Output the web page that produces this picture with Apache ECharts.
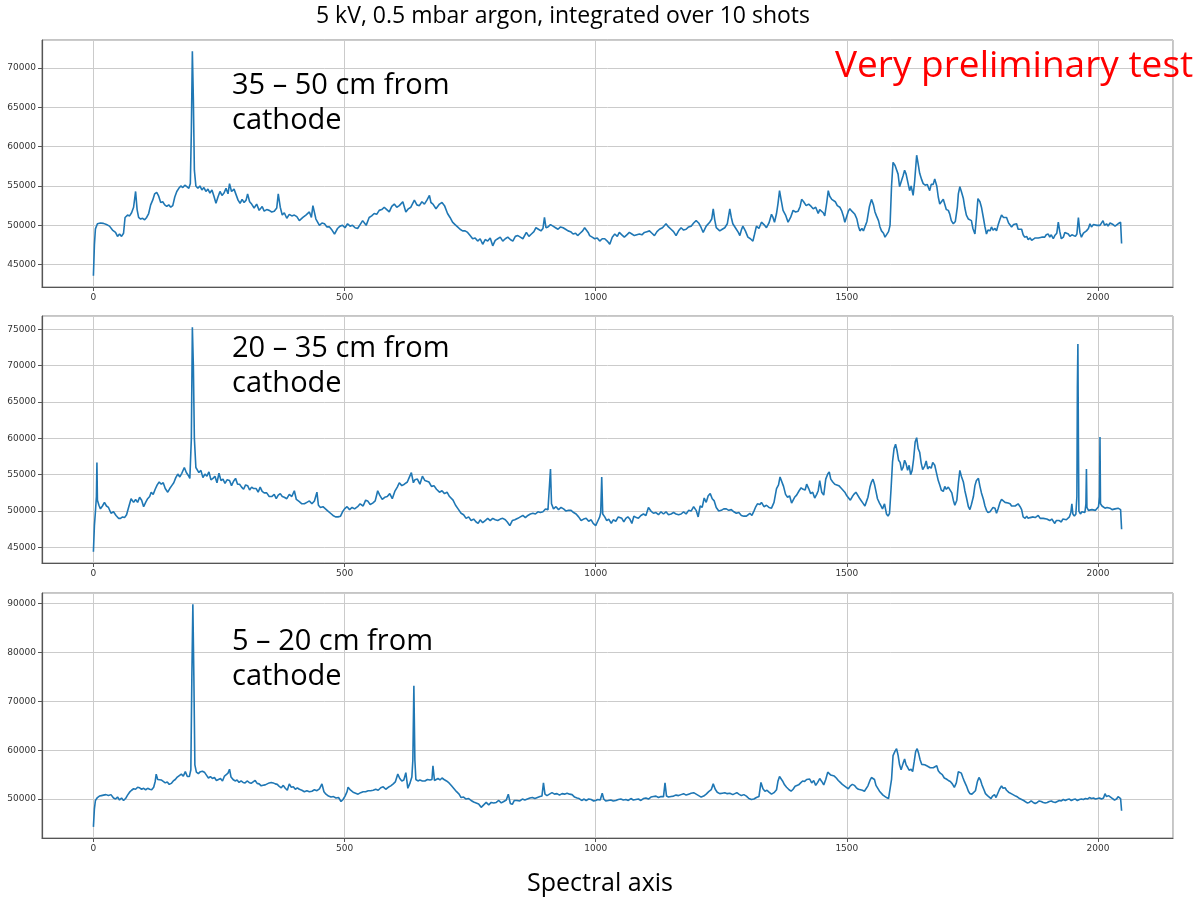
<!DOCTYPE html>
<html>
<head>
<meta charset="utf-8">
<title>Spectra</title>
<script src="https://cdn.jsdelivr.net/npm/echarts@6/dist/echarts.min.js"></script>
<style>
  html, body { margin: 0; padding: 0; background: #fff; }
  #chart { width: 1199px; height: 901px; }
</style>
</head>
<body>
<div id="chart"></div>
<script>
// Integrated spectra, [channel, counts], 2048 channels each
const spectrum35to50 = [[0,43600],[2,47500],[4,49550],[8,50200],[14,50300],[20,50250],[26,50100],[32,49900],[38,49400],[44,49100],[48,48600],[52,48900],[56,48600],[60,49000],[63,51000],[68,51300],[72,51200],[76,51600],[80,52300],[84,54300],[87,52000],[90,51000],[94,50800],[98,50900],[102,50700],[106,51000],[110,51500],[114,52600],[118,53200],[122,54000],[126,54200],[130,53700],[134,52900],[138,53000],[142,52600],[146,52400],[150,52600],[154,52300],[158,52500],[162,53600],[166,54300],[170,54700],[174,55000],[178,54800],[182,55100],[186,54900],[190,54700],[193,55300],[195,62000],[197,72100],[199,66000],[201,57000],[204,55000],[208,54700],[212,55000],[216,54500],[220,54800],[224,54300],[228,54600],[232,54100],[236,54500],[240,53700],[244,52800],[248,53600],[252,54300],[256,53800],[260,54100],[264,54700],[268,54000],[271,55300],[275,54300],[280,54600],[284,53900],[288,53200],[292,52800],[296,53300],[300,52900],[304,53200],[307,54000],[311,53000],[315,52700],[320,52200],[325,52700],[330,51900],[336,52400],[340,51800],[345,52000],[350,51900],[355,51700],[360,51800],[365,52200],[368,54000],[372,52300],[376,51300],[380,51600],[385,50900],[390,51400],[395,51200],[400,51300],[405,51100],[410,50600],[417,51000],[423,51300],[430,51700],[434,51000],[437,52500],[443,50800],[450,50000],[455,50300],[460,50200],[465,49800],[470,49800],[475,49400],[480,48900],[486,49600],[491,49900],[496,50000],[501,49700],[506,50200],[511,49900],[516,50000],[521,49700],[526,49600],[531,50100],[536,50600],[543,50000],[549,51000],[554,51200],[559,51500],[564,51400],[569,51900],[574,52000],[579,52300],[584,52000],[589,51700],[594,52400],[599,52700],[604,52300],[609,52500],[616,53000],[622,51700],[627,52100],[632,52300],[639,53200],[644,52600],[649,52500],[654,53000],[659,52700],[664,53200],[669,53800],[672,52900],[676,52700],[682,52100],[689,52700],[694,52900],[699,52500],[705,51500],[710,51000],[715,50400],[720,50100],[725,49800],[730,49500],[735,49300],[740,49300],[745,49100],[750,48700],[755,48300],[760,48400],[765,48000],[770,48300],[775,47600],[780,48200],[785,48000],[790,48400],[795,47400],[800,48100],[805,48300],[810,48500],[815,48000],[820,48300],[825,48500],[830,48200],[835,48000],[840,48600],[845,48700],[850,48500],[855,48300],[862,49100],[867,48600],[872,48900],[877,49200],[881,49700],[886,49500],[891,49300],[895,49600],[898,51000],[901,49700],[905,49800],[910,50100],[915,49900],[920,49700],[925,49500],[930,49800],[935,49700],[940,49500],[945,49300],[950,49200],[955,48900],[960,49000],[964,48700],[969,49000],[974,49300],[978,49700],[981,49800],[985,49100],[988,48700],[993,48500],[998,48300],[1003,48400],[1008,48000],[1013,48300],[1018,48300],[1023,48000],[1028,47600],[1033,48500],[1038,48900],[1043,48600],[1047,49100],[1052,48800],[1057,48500],[1062,48800],[1067,49100],[1072,48900],[1077,48700],[1082,48800],[1087,48900],[1092,48800],[1097,49100],[1102,49200],[1107,49300],[1112,49000],[1117,48700],[1122,49200],[1127,49500],[1133,49700],[1140,50200],[1145,49800],[1150,49500],[1155,49200],[1160,48700],[1165,49300],[1170,49700],[1175,49400],[1180,49500],[1185,49800],[1190,49900],[1195,50300],[1200,50600],[1205,50300],[1210,49700],[1214,49100],[1220,49900],[1227,50400],[1231,50800],[1234,52100],[1237,50700],[1240,49700],[1247,49300],[1252,49500],[1257,49700],[1262,50200],[1267,52100],[1270,51000],[1273,50200],[1280,49500],[1284,49100],[1287,48700],[1290,49400],[1293,49900],[1298,49300],[1303,48500],[1308,48300],[1313,48000],[1316,48800],[1320,49900],[1325,49600],[1330,50400],[1335,50100],[1340,49700],[1345,50300],[1350,51400],[1353,51000],[1356,50400],[1360,51500],[1363,52800],[1366,54400],[1369,53300],[1373,51900],[1378,51300],[1383,50400],[1388,51000],[1393,51900],[1398,51700],[1403,51800],[1407,52400],[1410,53300],[1414,53000],[1419,52500],[1424,52700],[1429,52400],[1433,52100],[1438,52300],[1443,51500],[1446,52000],[1449,51900],[1453,51600],[1456,51200],[1460,52900],[1463,54400],[1466,53700],[1470,53300],[1473,53100],[1477,53000],[1481,52500],[1486,52300],[1490,51800],[1493,51200],[1496,50400],[1500,51200],[1503,51800],[1506,52100],[1510,51800],[1513,51600],[1516,51400],[1520,50800],[1523,49900],[1526,49300],[1530,49600],[1533,49300],[1536,49400],[1540,50500],[1545,52400],[1549,53300],[1553,52600],[1556,51700],[1559,51200],[1563,50600],[1566,49800],[1569,49300],[1573,49000],[1576,48500],[1579,48400],[1583,49200],[1586,50000],[1589,55000],[1592,58000],[1596,57600],[1599,57800],[1602,56500],[1605,54900],[1608,55500],[1612,56300],[1615,57000],[1618,56500],[1622,55300],[1625,54400],[1628,55000],[1632,53800],[1635,55600],[1639,58900],[1642,57800],[1645,56600],[1649,55800],[1652,55300],[1656,55100],[1660,55200],[1665,54400],[1668,55200],[1672,55200],[1675,55900],[1679,55000],[1682,53600],[1685,52700],[1688,52800],[1692,53300],[1695,53100],[1698,52000],[1702,51900],[1705,51400],[1708,50600],[1712,50200],[1716,50500],[1720,52300],[1722,54000],[1725,54900],[1728,54300],[1732,53400],[1735,52200],[1738,51300],[1742,50800],[1745,50600],[1748,50600],[1751,49600],[1755,48900],[1758,51000],[1761,53400],[1765,53000],[1768,52300],[1772,50900],[1775,49800],[1778,48900],[1781,49400],[1785,49300],[1788,49800],[1791,49400],[1795,49600],[1798,49300],[1801,50000],[1805,50800],[1808,51300],[1812,51000],[1815,51100],[1818,51000],[1822,50300],[1825,50400],[1828,49800],[1832,50100],[1835,50300],[1838,50200],[1841,49500],[1844,49300],[1848,49500],[1851,48800],[1854,48500],[1858,48600],[1861,48200],[1865,48400],[1868,48100],[1871,48100],[1875,48400],[1878,48200],[1881,48400],[1884,48300],[1888,48500],[1891,48300],[1894,48500],[1897,48800],[1901,48900],[1904,48500],[1907,48800],[1911,48300],[1914,48700],[1918,49000],[1921,50400],[1924,49200],[1927,48300],[1931,48500],[1934,49100],[1937,48900],[1941,48900],[1944,48600],[1948,48800],[1951,48700],[1955,48600],[1958,48900],[1961,51000],[1964,49100],[1967,48500],[1971,49000],[1974,48800],[1977,49300],[1981,49600],[1984,50200],[1987,49800],[1991,50100],[1994,50000],[1998,50000],[2001,49900],[2004,50000],[2007,50200],[2010,50600],[2013,50000],[2017,50200],[2020,49900],[2024,50300],[2027,50400],[2030,50100],[2034,49900],[2037,49800],[2040,50200],[2043,50300],[2045,50400],[2047,47700]];

const spectrum20to35 = [[0,44400],[2,48000],[4,49900],[6,52000],[7,56700],[8,51500],[11,50800],[14,50300],[18,50700],[22,51200],[26,50700],[30,50500],[35,49700],[40,49900],[45,49400],[50,49000],[54,49000],[58,49200],[62,49100],[66,49500],[70,50500],[75,51700],[80,51200],[84,51600],[88,51200],[92,51900],[96,51500],[100,50600],[104,51200],[108,51700],[112,52000],[115,52600],[119,52300],[123,53000],[127,53600],[131,54000],[135,53700],[139,53900],[143,53100],[148,52600],[152,53100],[156,53500],[160,53900],[164,54600],[168,55100],[172,54700],[176,55200],[181,56000],[185,55300],[189,54900],[192,54500],[195,60000],[197,75300],[199,70000],[201,60000],[204,56000],[206,55800],[210,55300],[214,55600],[218,54600],[222,55100],[226,54800],[230,55400],[234,54300],[238,54500],[242,54800],[246,53900],[250,55200],[254,54200],[258,54400],[262,53800],[266,54300],[271,54200],[275,53500],[279,54100],[283,54500],[287,53700],[291,53700],[295,53300],[299,53000],[303,53600],[307,53500],[311,52900],[315,53300],[319,53100],[324,53100],[328,52600],[332,53300],[336,52700],[340,52500],[345,52500],[350,52000],[355,52000],[360,52300],[364,51700],[368,52200],[372,52400],[376,52000],[380,51900],[385,51700],[390,52300],[395,52000],[400,52800],[404,51600],[410,51300],[415,51000],[420,51000],[425,51200],[430,51400],[435,51000],[440,51400],[445,52600],[448,50800],[452,50500],[457,50600],[462,50300],[467,50000],[472,49700],[477,49400],[482,49200],[487,49200],[492,49300],[496,49900],[500,50300],[505,50600],[510,50200],[515,50500],[520,50300],[526,50600],[531,51000],[537,50700],[542,51500],[546,51400],[551,50900],[556,51100],[561,51400],[566,52800],[570,52200],[575,51600],[580,51900],[585,52000],[590,52400],[595,51700],[600,52700],[605,53300],[609,53900],[614,53500],[619,53700],[625,54000],[628,54500],[633,55300],[637,53900],[640,54300],[645,54400],[650,53700],[655,54800],[660,54200],[663,54000],[668,54000],[673,53400],[678,53500],[683,53000],[689,52600],[694,52800],[699,52400],[704,52600],[709,52000],[716,51500],[721,50800],[726,50300],[732,49700],[737,49500],[742,49000],[747,49200],[752,48700],[757,48900],[762,48500],[766,48300],[770,48800],[775,48400],[780,48700],[785,49000],[790,48700],[795,49000],[800,48800],[805,48700],[810,48900],[815,49000],[820,48800],[824,48500],[829,48000],[834,48700],[839,48800],[845,49000],[850,49200],[855,49400],[860,49100],[865,49400],[870,49600],[875,49700],[880,49600],[885,49900],[890,49800],[895,49900],[900,50300],[905,50200],[908,50300],[910,55800],[912,51000],[916,50300],[921,50600],[926,50200],[931,50500],[936,50300],[941,50000],[946,50100],[951,50100],[956,49800],[961,49600],[966,49200],[971,48700],[976,48900],[981,49000],[986,48600],[991,48800],[995,48300],[1000,48000],[1004,48600],[1008,49200],[1010,49800],[1012,54700],[1014,49600],[1018,49200],[1022,48700],[1026,48900],[1031,48300],[1035,48800],[1040,48600],[1045,49200],[1048,49400],[1052,49000],[1056,48500],[1060,49000],[1064,49200],[1068,48900],[1072,48300],[1076,49300],[1081,49100],[1085,49000],[1090,49400],[1095,49600],[1100,49400],[1105,50500],[1110,50000],[1115,49700],[1120,49800],[1125,49500],[1130,49900],[1135,49600],[1140,49900],[1145,49500],[1150,49600],[1155,49800],[1160,49600],[1165,49500],[1170,49600],[1175,49900],[1180,49600],[1185,50100],[1190,50000],[1195,50600],[1200,50100],[1204,49200],[1208,50700],[1212,50500],[1216,51800],[1220,51200],[1224,52100],[1228,52400],[1232,51700],[1236,51400],[1240,50500],[1245,50000],[1250,50100],[1255,50300],[1260,50300],[1265,50100],[1270,50200],[1275,49900],[1280,49700],[1285,49800],[1290,49400],[1295,49300],[1300,49300],[1303,49200],[1307,49700],[1311,49400],[1315,50000],[1318,50500],[1322,51000],[1327,50900],[1330,51200],[1335,50600],[1340,50800],[1345,50500],[1350,50400],[1355,51200],[1360,53100],[1364,53600],[1367,54700],[1370,54900],[1374,53400],[1378,52300],[1382,51900],[1386,52100],[1390,51100],[1393,50900],[1396,51900],[1400,52200],[1405,52800],[1409,53200],[1413,53000],[1417,52900],[1420,53700],[1424,53100],[1428,52400],[1432,52600],[1436,51800],[1440,52300],[1443,52800],[1446,54200],[1450,52600],[1454,52200],[1458,54400],[1462,55100],[1465,55400],[1468,54400],[1472,54000],[1476,53700],[1480,53600],[1484,53500],[1488,53200],[1492,52900],[1496,52600],[1500,52100],[1503,52200],[1507,51500],[1511,52000],[1514,52300],[1518,52600],[1521,52400],[1525,51800],[1528,51500],[1532,51100],[1536,50700],[1539,51300],[1542,51900],[1546,53300],[1549,54000],[1552,54400],[1555,53700],[1558,52700],[1561,51700],[1565,51100],[1568,50700],[1571,50300],[1575,51000],[1579,49600],[1582,49300],[1585,49700],[1588,53000],[1591,56800],[1594,58600],[1597,59200],[1600,58300],[1603,57000],[1606,56700],[1609,55600],[1612,56000],[1615,57000],[1618,56500],[1621,55600],[1624,56300],[1627,55000],[1630,55600],[1633,57200],[1636,59500],[1639,60100],[1642,58600],[1645,58100],[1648,56600],[1651,55700],[1655,56200],[1658,56900],[1661,55800],[1664,56100],[1668,55900],[1671,56700],[1675,56300],[1678,55400],[1682,54200],[1685,53600],[1688,52900],[1692,52700],[1695,53400],[1698,53000],[1702,53300],[1705,53100],[1709,52500],[1712,51500],[1715,50800],[1719,51500],[1722,53800],[1725,55600],[1728,54800],[1732,54000],[1735,52800],[1738,51900],[1742,50600],[1745,50200],[1748,50900],[1752,52000],[1755,53500],[1758,54200],[1762,54500],[1765,53400],[1768,52500],[1772,51600],[1775,50700],[1778,50100],[1781,49800],[1785,49900],[1788,50200],[1791,50500],[1795,50400],[1798,49700],[1801,50300],[1805,51200],[1808,51600],[1811,51700],[1815,51200],[1818,51000],[1821,51100],[1825,51000],[1828,50700],[1831,50900],[1835,50700],[1838,50900],[1841,51000],[1845,50600],[1848,50200],[1851,49200],[1855,49000],[1858,49300],[1861,49000],[1865,49100],[1868,48900],[1871,49200],[1875,49100],[1878,49000],[1881,49400],[1885,49000],[1888,48800],[1891,49000],[1894,48800],[1898,48900],[1901,48700],[1904,48700],[1908,48900],[1911,48600],[1914,48300],[1917,48700],[1920,48900],[1923,48700],[1927,48500],[1930,48900],[1933,48700],[1937,48800],[1940,48800],[1943,49200],[1946,49800],[1948,51000],[1950,49600],[1953,49300],[1956,49600],[1958,52000],[1959,67000],[1960,73000],[1961,60000],[1962,50000],[1965,49600],[1968,49900],[1971,50100],[1974,49800],[1976,51000],[1977,55800],[1978,50500],[1981,50100],[1984,50000],[1988,50200],[1991,50400],[1995,50100],[1998,50300],[2001,50600],[2003,52000],[2004,60200],[2005,51000],[2008,50700],[2011,50600],[2014,50400],[2018,50500],[2021,50300],[2024,50400],[2028,50200],[2031,50000],[2034,50300],[2037,50100],[2040,50400],[2043,50200],[2045,50200],[2047,47500]];

const spectrum5to20 = [[0,44300],[2,48000],[4,49700],[8,50300],[12,50600],[16,50700],[20,50800],[25,50900],[30,50700],[35,50900],[40,50200],[44,50000],[48,50400],[52,49800],[56,50200],[60,49700],[64,50100],[68,50800],[72,51400],[76,51800],[80,52100],[84,52000],[88,52400],[92,52300],[96,52000],[100,52200],[104,51900],[108,52200],[112,52000],[116,51900],[120,52400],[123,53600],[125,55100],[128,54000],[131,54300],[135,53900],[139,53600],[143,53300],[147,53500],[151,53000],[155,53200],[159,53700],[163,54000],[167,54500],[171,54800],[175,55100],[179,54700],[183,55600],[187,54600],[191,54600],[194,56000],[196,75000],[198,89900],[200,75000],[202,57000],[205,55500],[209,55200],[213,55600],[217,55700],[221,55500],[225,54900],[229,54300],[233,54600],[237,54200],[241,54400],[245,53800],[249,54000],[253,54200],[257,53700],[261,54700],[264,54300],[268,55300],[271,56100],[274,54500],[278,54000],[282,53700],[286,53900],[290,53400],[294,53700],[298,53400],[302,53300],[306,53700],[310,53400],[314,53200],[318,53500],[322,53800],[326,53200],[330,53100],[334,52700],[338,52800],[342,52900],[346,53100],[350,53300],[354,53400],[358,53300],[362,53100],[366,53000],[370,52600],[374,52300],[378,52800],[382,52200],[386,51800],[390,53100],[394,52400],[398,52500],[402,52000],[406,52300],[410,52000],[415,51800],[420,51500],[425,51700],[430,51500],[435,51600],[440,51900],[445,51700],[450,52100],[455,53100],[459,51500],[463,51000],[468,50600],[473,50400],[478,50500],[483,50200],[488,50300],[493,49500],[497,49900],[501,50600],[505,51500],[507,52400],[512,51800],[517,51400],[522,51200],[527,51000],[532,51300],[537,51500],[542,51500],[547,51700],[552,51700],[557,51800],[562,52000],[567,51800],[572,52300],[577,52500],[582,52000],[587,52400],[592,52700],[597,53100],[601,53500],[606,55100],[610,54200],[614,53700],[618,53900],[622,55400],[626,52200],[630,53200],[634,54500],[636,58000],[638,73200],[640,58000],[642,54000],[646,53700],[650,53900],[655,53700],[660,53700],[665,54000],[670,53900],[674,54000],[676,56800],[679,53800],[682,53900],[686,54200],[690,53900],[694,54300],[698,54000],[703,53700],[708,53300],[713,52700],[718,52100],[723,51500],[728,51000],[732,50300],[737,50400],[742,50000],[747,50100],[752,49700],[757,49400],[762,49200],[767,49000],[772,48300],[777,48800],[782,49300],[787,48800],[792,49300],[797,49200],[802,49300],[807,49700],[812,49200],[817,49500],[822,49800],[826,51000],[830,49100],[834,48900],[838,49700],[843,49700],[849,49600],[854,50000],[859,49800],[864,50000],[869,50200],[874,50300],[879,50100],[884,50300],[889,50500],[893,50600],[896,53300],[899,51000],[903,50700],[908,51000],[913,51300],[918,51000],[923,51100],[928,50800],[933,51100],[938,51000],[943,51200],[948,51000],[953,50900],[958,50400],[963,50200],[967,50100],[972,49700],[977,50000],[981,49700],[986,50000],[991,49900],[996,49600],[1000,49700],[1004,49900],[1009,49800],[1013,51200],[1016,50000],[1020,49600],[1025,49700],[1030,49800],[1035,49600],[1040,49700],[1045,49900],[1050,50000],[1055,49800],[1060,49900],[1065,49700],[1070,50100],[1075,49800],[1080,49900],[1085,50000],[1090,49700],[1095,50100],[1100,50200],[1105,50000],[1110,50400],[1115,50500],[1120,50600],[1125,50300],[1130,50500],[1135,50500],[1138,53300],[1141,50600],[1145,50400],[1150,50500],[1155,50600],[1160,50800],[1165,50700],[1170,50900],[1175,51100],[1180,50800],[1185,51000],[1190,51200],[1195,51300],[1200,51000],[1205,50700],[1210,50400],[1215,50600],[1220,51000],[1225,51500],[1230,51900],[1234,53100],[1238,52000],[1242,51400],[1247,51100],[1252,51200],[1257,51300],[1262,51100],[1267,51200],[1270,51600],[1273,50900],[1277,51100],[1281,51300],[1285,51000],[1290,50700],[1295,50900],[1300,50600],[1305,50100],[1310,49900],[1315,50000],[1320,50300],[1325,50500],[1329,53400],[1333,52100],[1337,51600],[1341,51800],[1345,51400],[1350,51000],[1355,51300],[1360,51900],[1363,53700],[1366,54600],[1369,54400],[1372,53700],[1376,52900],[1380,52400],[1385,51900],[1389,51600],[1393,52000],[1397,52600],[1400,52700],[1404,52900],[1408,53300],[1412,53700],[1416,53600],[1420,54000],[1423,53600],[1426,54100],[1430,53300],[1434,53800],[1438,52800],[1442,53400],[1446,54200],[1450,53600],[1454,52900],[1458,54000],[1462,55500],[1465,55800],[1468,54900],[1471,55300],[1475,54700],[1479,54300],[1483,53800],[1487,53400],[1491,53000],[1495,52700],[1499,52400],[1503,52100],[1507,52700],[1511,53000],[1515,52800],[1519,52300],[1523,52000],[1527,51900],[1531,51800],[1535,51600],[1538,51800],[1542,52700],[1546,53800],[1549,54400],[1552,54700],[1555,54000],[1558,52800],[1561,52400],[1565,51600],[1568,51500],[1572,50800],[1575,50500],[1579,50300],[1583,50100],[1586,50000],[1589,54000],[1592,58900],[1596,59800],[1599,60300],[1602,59000],[1605,57000],[1608,56000],[1612,57300],[1615,58200],[1618,57000],[1621,56500],[1624,55900],[1628,56100],[1631,55600],[1634,57600],[1637,59700],[1640,60300],[1643,59300],[1646,58000],[1649,57100],[1652,56800],[1655,57000],[1659,56800],[1662,56700],[1666,56400],[1669,56700],[1672,56400],[1675,56300],[1679,56800],[1682,55800],[1686,55300],[1690,55000],[1694,54300],[1698,54100],[1702,53800],[1706,53600],[1710,53100],[1714,52400],[1718,53300],[1722,55600],[1725,55800],[1728,55300],[1731,54400],[1734,53600],[1738,52700],[1742,51600],[1745,51100],[1749,51000],[1752,51100],[1756,51700],[1760,53600],[1763,54400],[1766,53900],[1769,52900],[1773,51900],[1776,51100],[1780,50700],[1783,50300],[1787,50100],[1790,50600],[1794,50900],[1797,50300],[1800,50400],[1804,52000],[1808,52700],[1811,52200],[1815,52300],[1818,51800],[1822,51400],[1825,51200],[1829,51000],[1832,50800],[1836,50600],[1840,50400],[1844,50100],[1848,49900],[1852,49700],[1855,49400],[1859,49200],[1863,49300],[1867,49600],[1871,49300],[1875,49100],[1879,49300],[1883,49600],[1887,49500],[1891,49300],[1895,49200],[1899,49300],[1903,49500],[1907,49600],[1911,49400],[1915,49300],[1919,49500],[1923,49700],[1927,49600],[1931,49900],[1935,49700],[1939,49900],[1943,50000],[1947,49700],[1951,49900],[1955,50000],[1959,49700],[1963,49900],[1967,50000],[1971,49900],[1975,50100],[1979,50000],[1983,50300],[1987,50100],[1991,50200],[1995,50000],[1999,50100],[2003,50200],[2007,50000],[2011,50200],[2014,51100],[2017,50500],[2021,50700],[2025,50400],[2029,50100],[2033,49800],[2037,50000],[2040,50500],[2043,50200],[2045,50100],[2047,47600]];

const panelLabels = ['35 – 50 cm from\ncathode', '20 – 35 cm from\ncathode', '5 – 20 cm from\ncathode'];
const headline = '5 kV, 0.5 mbar argon, integrated over 10 shots';
const stamp = 'Very preliminary test';
const xAxisName = 'Spectral axis';
const channelCount = 2048;

const spectra = [spectrum35to50, spectrum20to35, spectrum5to20];

// panel boxes in page pixels
const panels = [
  { top: 40, height: 247, labelY: 103 },
  { top: 316, height: 247, labelY: 366 },
  { top: 593, height: 245, labelY: 659 }
];

// 5 % margins around the data, as in a default matplotlib figure
function paddedExtent(values) {
  const lo = Math.min(...values), hi = Math.max(...values);
  const pad = (hi - lo) * 0.05;
  return [lo - pad, hi + pad];
}

const xLast = channelCount - 1;
const xExt = [-0.05 * xLast, xLast * 1.05];

const axisColor = '#555';
const gridColor = '#cbcbcb';
const tickFont = { fontFamily: 'DejaVu Sans', fontSize: 9, color: '#333' };

const grid = [], xAxis = [], yAxis = [], series = [], graphic = [];

spectra.forEach((data, i) => {
  const p = panels[i];
  const yExt = paddedExtent(data.map(d => d[1]));
  grid.push({
    left: 42, right: 26, top: p.top, height: p.height,
    show: true, borderColor: '#8a8a8a', borderWidth: 1, backgroundColor: 'transparent'
  });
  xAxis.push({
    type: 'value', gridIndex: i, min: xExt[0], max: xExt[1], splitNumber: 5,
    axisLine: { show: true, onZero: false, lineStyle: { color: axisColor, width: 1.2 } },
    axisTick: { show: true, length: 4, lineStyle: { color: axisColor } },
    axisLabel: Object.assign({
      margin: 6, showMinLabel: false, showMaxLabel: false,
      formatter: v => (Math.abs(v % 500) < 1e-6 ? String(Math.round(v)) : '')
    }, tickFont),
    splitLine: { show: true, lineStyle: { color: gridColor, width: 1 } }
  });
  yAxis.push({
    type: 'value', gridIndex: i, min: yExt[0], max: yExt[1], splitNumber: 5,
    axisLine: { show: true, onZero: false, lineStyle: { color: axisColor, width: 1.2 } },
    axisTick: { show: true, length: 4, lineStyle: { color: axisColor } },
    axisLabel: Object.assign({
      margin: 6, showMinLabel: false, showMaxLabel: false,
      formatter: v => (Math.abs(v % 5000) < 1e-6 ? String(Math.round(v)) : '')
    }, tickFont),
    splitLine: { show: true, lineStyle: { color: gridColor, width: 1 } }
  });
  series.push({
    type: 'line', xAxisIndex: i, yAxisIndex: i, data: data,
    showSymbol: false, symbol: 'none', animation: false,
    lineStyle: { color: '#1f77b4', width: 1.6 }
  });
  graphic.push({
    type: 'text', x: 232, y: p.labelY, z: 10,
    style: {
      text: panelLabels[i], fill: '#000', font: '29px "Open Sans"',
      lineHeight: 35, textAlign: 'left', textVerticalAlign: 'middle'
    }
  });
});

graphic.push({
  type: 'text', x: 563, y: 16, z: 10,
  style: { text: headline, fill: '#000', font: '23px "Open Sans"', textAlign: 'center', textVerticalAlign: 'middle' }
});
graphic.push({
  type: 'text', x: 835, y: 66, z: 10,
  style: { text: stamp, fill: '#ff0000', font: '37px "Open Sans"', textAlign: 'left', textVerticalAlign: 'middle' }
});
graphic.push({
  type: 'text', x: 600, y: 884, z: 10,
  style: { text: xAxisName, fill: '#000', font: '25px "Open Sans"', textAlign: 'center', textVerticalAlign: 'middle' }
});

const chart = echarts.init(document.getElementById('chart'), null, { renderer: 'canvas' });
chart.setOption({
  animation: false,
  backgroundColor: '#fff',
  grid, xAxis, yAxis, series, graphic
});
</script>
</body>
</html>
